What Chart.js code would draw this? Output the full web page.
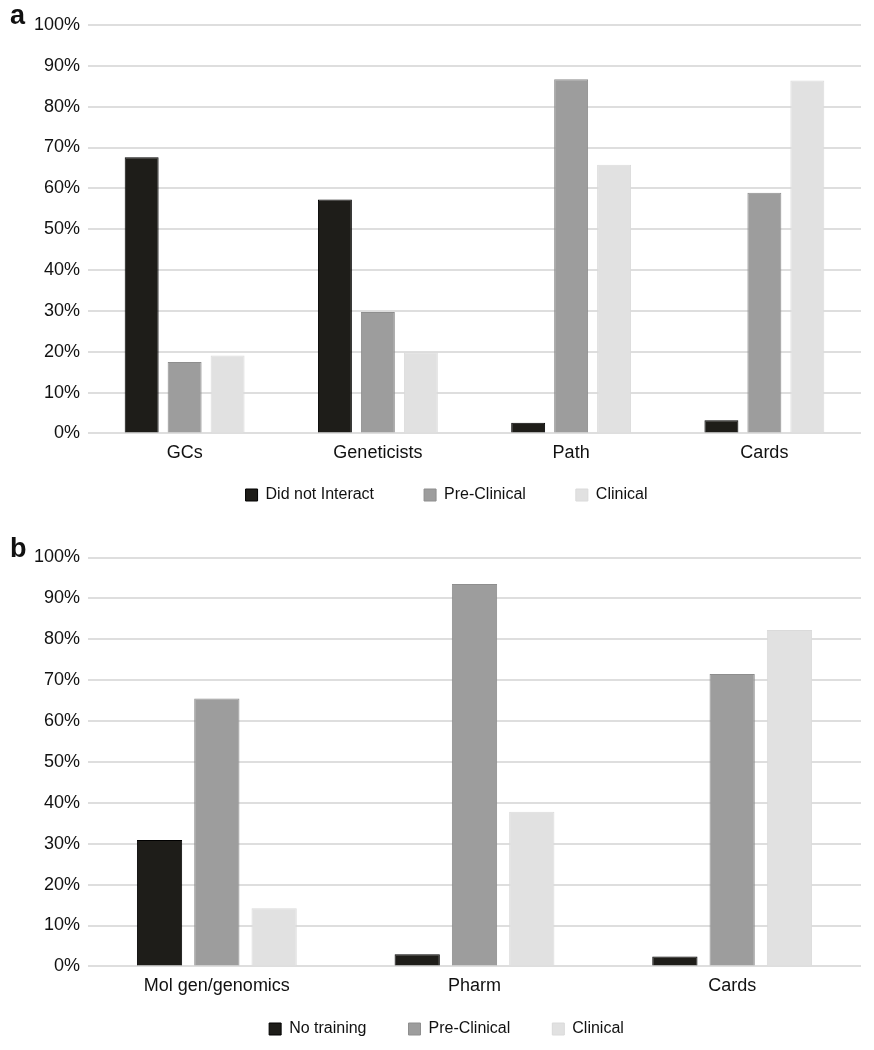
<!doctype html>
<html lang="en">
<head>
  <meta charset="utf-8">
  <title>Interaction and training by specialty</title>
  <script src="https://cdn.jsdelivr.net/npm/chart.js"></script>
  <style>
    body { margin: 0; background: #fff; font-family: "Liberation Sans", Arial, sans-serif; }
    .panel { position: absolute; left: 0; width: 874px; }
    .letter { position: absolute; left: 10px; font-weight: bold; font-size: 27px; color: #111; }
  </style>
</head>
<body>
  <div class="panel" style="top:0;height:515px;"><canvas id="chartA"></canvas></div>
  <div class="panel" style="top:515px;height:535px;"><canvas id="chartB"></canvas></div>
  <div class="letter" style="top:0px;">a</div>
  <div class="letter" style="top:533px;">b</div>

  <script>
    // panel a
    const catsA = ['GCs', 'Geneticists', 'Path', 'Cards'];
    const noInteractA = [67.6, 57.3, 2.6, 3.2];
    const preClinicalA = [17.5, 29.7, 86.7, 58.9];
    const clinicalA = [19.1, 19.9, 65.8, 86.4];

    // panel b
    const catsB = ['Mol gen/genomics', 'Pharm', 'Cards'];
    const noTrainingB = [30.9, 3.0, 2.4];
    const preClinicalB = [65.5, 93.5, 71.5];
    const clinicalB = [14.2, 37.8, 82.3];

    const font = "'Liberation Sans', Arial, sans-serif";

    // the legend's item spacing also adds space above it, so nudge it back into place
    const moveLegend = {
      id: 'moveLegend',
      afterLayout(chart, args, opts) {
        const lg = chart.legend;
        lg.top -= opts.dy;
        lg.bottom -= opts.dy;
        lg.left += opts.dx;
        lg.right += opts.dx;
      }
    };

    function makeChart(id, labels, firstLabel, s1, s2, s3, pad, gap, dy) {
      const ctx = document.getElementById(id).getContext('2d');
      return new Chart(ctx, {
        type: 'bar',
        plugins: [moveLegend],
        data: {
          labels: labels,
          datasets: [
            { label: firstLabel, data: s1, backgroundColor: '#1e1d19', borderColor: '#000000', borderWidth: 1 },
            { label: 'Pre-Clinical', data: s2, backgroundColor: '#9d9d9d', borderColor: '#8e8e8e', borderWidth: 1 },
            { label: 'Clinical', data: s3, backgroundColor: '#e1e1e1', borderColor: '#dadada', borderWidth: 1 }
          ]
        },
        options: {
          responsive: true,
          maintainAspectRatio: false,
          animation: false,
          datasets: { bar: { categoryPercentage: 0.667, barPercentage: 0.79 } },
          layout: { padding: pad },
          plugins: {
            tooltip: { enabled: false },
            moveLegend: { dy: dy, dx: 16 },
            legend: {
              position: 'bottom',
              labels: {
                boxWidth: 12, boxHeight: 12, padding: gap,
                color: '#111', font: { family: font, size: 16 }
              }
            }
          },
          scales: {
            x: {
              grid: { display: false },
              border: { display: false },
              ticks: { color: '#111', padding: 1, font: { family: font, size: 18 } }
            },
            y: {
              min: 0, max: 100,
              afterFit: s => { s.width = 88; },
              border: { display: false },
              grid: { color: '#dedede', lineWidth: 2, drawTicks: false },
              ticks: { stepSize: 10, padding: 8, color: '#111', font: { family: font, size: 18 },
                       callback: v => v + '%' }
            }
          }
        }
      });
    }

    makeChart('chartA', catsA, 'Did not Interact', noInteractA, preClinicalA, clinicalA,
              { top: 25, right: 13, left: 0, bottom: -26 }, 50, 28);
    makeChart('chartB', catsB, 'No training', noTrainingB, preClinicalB, clinicalB,
              { top: 42.5, right: 13, left: 0, bottom: -16 }, 42, 19);
  </script>
</body>
</html>
